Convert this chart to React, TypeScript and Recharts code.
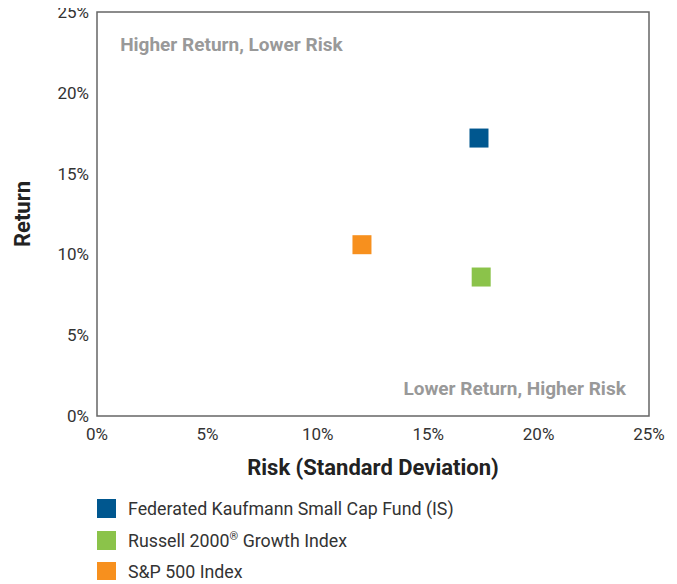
import { ScatterChart, Scatter, XAxis, YAxis, ReferenceArea, ReferenceDot, Label } from 'recharts';

const seriesNames = ['Federated Kaufmann Small Cap Fund (IS)', 'Russell 2000', 'S&P 500 Index'];
const riskValues = [17.3, 17.4, 12.0];
const returnValues = [17.2, 8.6, 10.6];
const COLORS = ['#00578f', '#8bc34a', '#f7901e'];
const ticks = [0, 5, 10, 15, 20, 25];

const FONT = 'Roboto, "Liberation Sans", Arial, sans-serif';

const Square = (props: any) => {
  const { cx, cy, fill } = props;
  return <rect x={cx - 9.5} y={cy - 9.5} width={19} height={19} fill={fill} />;
};

const YTitle = ({ viewBox }: any) => {
  const x = 22;
  const y = viewBox.y + viewBox.height / 2;
  return (
    <text x={x} y={y} transform={`rotate(-90, ${x}, ${y})`} textAnchor="middle" dominantBaseline="central"
      fontFamily={FONT} fontWeight={700} fontSize={22} fill="#222">Return</text>
  );
};

const XTitle = ({ viewBox }: any) => (
  <text x={viewBox.x + viewBox.width / 2} y={viewBox.y + 51} textAnchor="middle" dominantBaseline="central"
    fontFamily={FONT} fontWeight={700} fontSize={22} fill="#222">Risk (Standard Deviation)</text>
);

const note = (text: string, anchor: 'start' | 'end') => ({ viewBox }: any) => (
  <text x={viewBox.x} y={viewBox.y} textAnchor={anchor} dominantBaseline="central"
    fontFamily={FONT} fontWeight={700} fontSize={19} fill="#999">{text}</text>
);

export default function App() {
  const tickStyle = { fontFamily: FONT, fontSize: 17, fill: '#333' };
  return (
    <div style={{ width: 677, margin: -8, fontFamily: FONT }}>
      <ScatterChart width={677} height={480} margin={{ top: 12, right: 28, left: 0, bottom: 0 }}>
        <XAxis type="number" dataKey="x" domain={[0, 25]} ticks={ticks} tickFormatter={(v) => `${v}%`}
          axisLine={false} tickLine={false} tickSize={0} tick={tickStyle} tickMargin={12} height={64} interval={0}>
          <Label content={<XTitle />} />
        </XAxis>
        <YAxis type="number" dataKey="y" domain={[0, 25]} ticks={ticks} tickFormatter={(v) => `${v}%`}
          axisLine={false} tickLine={false} tickSize={0} tick={tickStyle} tickMargin={8} width={97} interval={0}>
          <Label content={<YTitle />} />
        </YAxis>
        <ReferenceArea x1={0} x2={25} y1={0} y2={25} fill="none" stroke="#666" strokeWidth={1.5} />
        <ReferenceDot x={1.05} y={23} r={0} label={note('Higher Return, Lower Risk', 'start')} />
        <ReferenceDot x={23.95} y={1.73} r={0} label={note('Lower Return, Higher Risk', 'end')} />
        {seriesNames.map((name, i) => (
          <Scatter key={name} name={name} data={[{ x: riskValues[i], y: returnValues[i] }]}
            fill={COLORS[i]} shape={<Square />} isAnimationActive={false} />
        ))}
      </ScatterChart>
      <div style={{ marginLeft: 97, marginTop: 13 }}>
        {seriesNames.map((name, i) => (
          <div key={name} style={{ display: 'flex', alignItems: 'center', height: 31.5 }}>
            <span style={{ width: 19, height: 19, background: COLORS[i], display: 'inline-block', marginRight: 12 }} />
            <span style={{ fontSize: 17.8, color: '#333' }}>
              {i === 1 ? <>Russell 2000<sup style={{ fontSize: 11 }}>®</sup> Growth Index</> : name}
            </span>
          </div>
        ))}
      </div>
    </div>
  );
}
